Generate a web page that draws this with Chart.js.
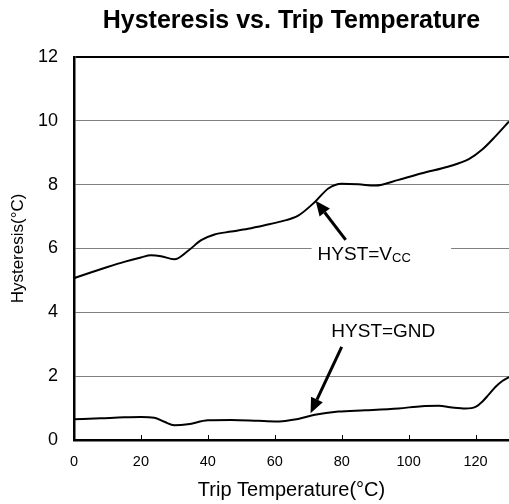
<!DOCTYPE html>
<html>
<head>
<meta charset="utf-8">
<script src="https://cdn.jsdelivr.net/npm/chart.js@4.4.1/dist/chart.umd.min.js"></script>
<style>
  html, body { margin: 0; padding: 0; background: #fff; }
</style>
</head>
<body>
<canvas id="myChart" width="509" height="504"></canvas>
<script>
// curve readings (trip temperature in °C, hysteresis in °C)
const tempVcc = [0, 5, 10, 15, 20, 23, 26, 30, 34, 38, 42, 47, 52, 57, 62, 67, 72, 76, 80, 85, 90, 97, 104, 112, 118, 122, 126, 130];
const hystVcc = [5.07, 5.25, 5.42, 5.58, 5.72, 5.79, 5.76, 5.66, 5.92, 6.26, 6.44, 6.53, 6.62, 6.73, 6.85, 7.03, 7.46, 7.88, 8.03, 8.01, 7.97, 8.15, 8.36, 8.57, 8.80, 9.10, 9.52, 9.98];

const tempGnd = [0, 8, 15, 20, 24, 27, 30, 34, 40, 47, 55, 60, 67, 72, 79, 87, 97, 104, 109, 113, 117, 120, 122, 124, 126, 128, 130];
const hystGnd = [0.65, 0.68, 0.71, 0.72, 0.70, 0.57, 0.46, 0.49, 0.62, 0.63, 0.60, 0.58, 0.66, 0.79, 0.89, 0.93, 0.99, 1.06, 1.07, 1.02, 0.99, 1.04, 1.20, 1.43, 1.67, 1.85, 1.97];

const seriesNames = ["HYST=VCC", "HYST=GND"];

// callouts, in data units
const notes = [
  { text: "HYST=V", sub: "CC", x: 72.8, y: 5.8, from: [81.2, 6.27], to: [72.2, 7.5], box: [71, 112.7, 5.55, 6.12] },
  { text: "HYST=GND", sub: "", x: 76.9, y: 3.39, from: [80, 2.92], to: [70.7, 0.84], box: null }
];

Chart.defaults.font.family = "'Liberation Sans', Arial, sans-serif";
Chart.defaults.color = "#000";

function toPoints(xs, ys) {
    return xs.map((x, i) => ({ x: x, y: ys[i] }));
}

const notesPlugin = {
    id: "notes",
    beforeDatasetsDraw(chart) {
        const ctx = chart.ctx;
        const x = chart.scales.x;
        const y = chart.scales.y;
        ctx.save();
        // white box behind the label cuts the grid line
        ctx.fillStyle = "#fff";
        notes.forEach(n => {
            if (!n.box) return;
            const x1 = x.getPixelForValue(n.box[0]);
            const x2 = x.getPixelForValue(n.box[1]);
            const y1 = y.getPixelForValue(n.box[3]);
            const y2 = y.getPixelForValue(n.box[2]);
            ctx.fillRect(x1, y1, x2 - x1, y2 - y1);
        });
        // small inward tick marks on the bottom axis
        ctx.strokeStyle = "#000";
        ctx.lineWidth = 1;
        x.ticks.forEach(t => {
            const px = Math.round(x.getPixelForValue(t.value)) + 0.5;
            ctx.beginPath();
            ctx.moveTo(px, y.bottom);
            ctx.lineTo(px, y.bottom - 5);
            ctx.stroke();
        });
        ctx.restore();
    },
    afterDatasetsDraw(chart) {
        const ctx = chart.ctx;
        const x = chart.scales.x;
        const y = chart.scales.y;
        ctx.save();
        notes.forEach(n => {
            // arrow
            const fx = x.getPixelForValue(n.from[0]), fy = y.getPixelForValue(n.from[1]);
            const tx = x.getPixelForValue(n.to[0]), ty = y.getPixelForValue(n.to[1]);
            const ang = Math.atan2(ty - fy, tx - fx);
            const headLen = 15, headW = 6.5;
            const bx = tx - headLen * Math.cos(ang), by = ty - headLen * Math.sin(ang);
            ctx.strokeStyle = "#000";
            ctx.lineWidth = 3;
            ctx.beginPath();
            ctx.moveTo(fx, fy);
            ctx.lineTo(bx, by);
            ctx.stroke();
            ctx.fillStyle = "#000";
            ctx.beginPath();
            ctx.moveTo(tx, ty);
            ctx.lineTo(bx + headW * Math.sin(ang), by - headW * Math.cos(ang));
            ctx.lineTo(bx - headW * Math.sin(ang), by + headW * Math.cos(ang));
            ctx.closePath();
            ctx.fill();

            // label
            const lx = x.getPixelForValue(n.x), ly = y.getPixelForValue(n.y);
            ctx.font = "19px 'Liberation Sans', Arial, sans-serif";
            ctx.textAlign = "left";
            ctx.textBaseline = "middle";
            ctx.fillText(n.text, lx, ly);
            if (n.sub) {
                const w = ctx.measureText(n.text).width;
                ctx.font = "13px 'Liberation Sans', Arial, sans-serif";
                ctx.fillText(n.sub, lx + w, ly + 4);
            }
        });
        ctx.restore();
    }
};

new Chart("myChart", {
    type: "line",
    data: {
        datasets: [{
            label: seriesNames[0],
            data: toPoints(tempVcc, hystVcc),
            borderColor: "#000",
            borderWidth: 2,
            pointRadius: 0,
            cubicInterpolationMode: "monotone",
            fill: false
        }, {
            label: seriesNames[1],
            data: toPoints(tempGnd, hystGnd),
            borderColor: "#000",
            borderWidth: 2,
            pointRadius: 0,
            cubicInterpolationMode: "monotone",
            fill: false
        }]
    },
    options: {
        responsive: false,
        animation: false,
        layout: { padding: 0 },
        plugins: {
            legend: { display: false },
            tooltip: { enabled: false },
            title: {
                display: true,
                text: "Hysteresis vs. Trip Temperature",
                fullSize: false,
                font: { size: 25, weight: "bold" },
                color: "#000",
                padding: { top: 6, bottom: 21 }
            }
        },
        scales: {
            x: {
                type: "linear",
                min: 0,
                max: 130,
                afterFit(scale) { scale.height = 64; },
                grid: { display: false, drawTicks: false },
                border: { color: "#000", width: 2.5 },
                ticks: { stepSize: 20, includeBounds: false, padding: 13, font: { size: 14.5 }, color: "#000", maxRotation: 0 },
                title: { display: true, text: "Trip Temperature(°C)", font: { size: 20 }, color: "#000", padding: { top: 0, bottom: 2 } }
            },
            y: {
                min: 0,
                max: 12,
                afterFit(scale) { scale.width = 74; },
                grid: {
                    drawTicks: false,
                    color: c => c.tick && c.tick.value === 12 ? "#000" : "#808080",
                    lineWidth: c => c.tick && c.tick.value === 12 ? 2 : 1
                },
                border: { color: "#000", width: 2.5 },
                ticks: { stepSize: 2, padding: 16, font: { size: 18 }, color: "#000" },
                title: { display: true, text: "Hysteresis(°C)", font: { size: 17 }, color: "#000", padding: { top: 8, bottom: 0 } }
            }
        }
    },
    plugins: [notesPlugin]
});
</script>
</body>
</html>
